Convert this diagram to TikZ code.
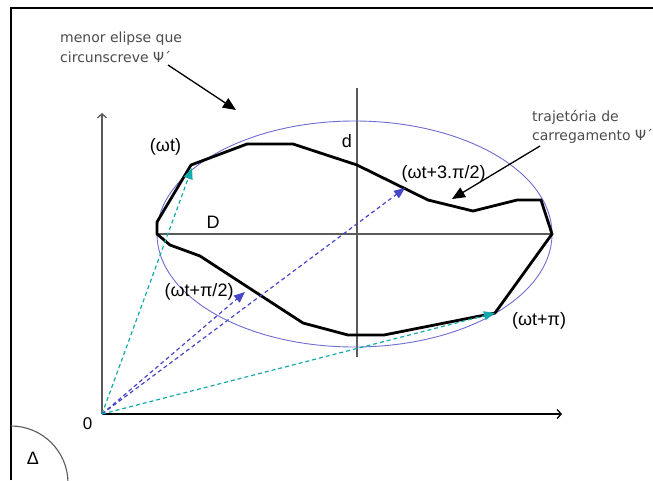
\documentclass[tikz,border=0pt]{standalone}
\usepackage{fontspec}
\setmainfont{Liberation Sans}
\newfontfamily\dejavu{DejaVu Sans}
\usetikzlibrary{arrows.meta}
\definecolor{vteal}{RGB}{20,170,170}
\definecolor{vblue}{RGB}{70,70,200}
\definecolor{ellcol}{RGB}{110,110,210}
\definecolor{axcol}{RGB}{90,90,90}
\tikzset{
  lbl/.style={font=\fontsize{18}{20}\selectfont, anchor=base, inner sep=0pt},
  note/.style={font=\dejavu\fontsize{14}{19.5}\selectfont, text=black!70, align=left, anchor=north west, inner sep=0pt},
  vec/.style={dash pattern=on 4pt off 3pt, line width=1.2pt, -{Triangle[length=11pt,width=9pt]}},
  notearrow/.style={line width=1.3pt, -{Triangle[length=13pt,width=11pt]}},
  loadpath/.style={line width=2.8pt, line join=miter},
  guide/.style={line width=1.2pt, draw=axcol},
  axis/.style={line width=1.3pt, -{Straight Barb[length=4pt,width=9pt]}}
}
\begin{document}
\begin{tikzpicture}[x=1pt,y=-1pt]
\useasboundingbox[fill=white] (0,0) rectangle (653,480);
% frame
\draw[line width=1.2pt] (11,480) -- (11,8) -- (653,8);
% coordinates
\coordinate (O) at (102,414);
\coordinate (ytop) at (102,113);
\coordinate (xend) at (562,414);
\coordinate (C) at (354.5,234);
\coordinate (Dl) at (157,234);
\coordinate (Dr) at (552,234);
\coordinate (dt) at (357,88);
\coordinate (db) at (357,357);
% axes
\draw[axis, draw=axcol] (O) -- (ytop);
\draw[axis] (O) -- (xend);
% guides
\draw[guide] (Dl) -- (Dr);
\draw[guide] (dt) -- (db);
% ellipse
\draw[ellcol, line width=0.9pt] (C) ellipse [x radius=197.5, y radius=113];
% loading path
\coordinate (p1) at (191,165);
\coordinate (p2) at (247,144);
\coordinate (p3) at (293,144);
\coordinate (p4) at (357,165);
\coordinate (p5) at (428,200);
\coordinate (p6) at (473,211);
\coordinate (p7) at (517,200);
\coordinate (p8) at (541,200);
\coordinate (p9) at (552,234);
\coordinate (p10) at (495,313);
\coordinate (p11) at (384,335);
\coordinate (p12) at (348,335);
\coordinate (p13) at (303,323);
\coordinate (p14) at (200,256);
\coordinate (p15) at (170,245);
\coordinate (p16) at (157,234);
\coordinate (p17) at (157,222);
\draw[loadpath] (p1) -- (p2) -- (p3) -- (p4) -- (p5) -- (p6) -- (p7) -- (p8) -- (p9) -- (p10) -- (p11) -- (p12) -- (p13) -- (p14) -- (p15) -- (p16) -- (p17) -- cycle;
% vectors
\coordinate (tA) at (192,168);
\coordinate (tB) at (245,292);
\coordinate (tC) at (405,188);
\coordinate (tD) at (495,313);
\draw[vec, vteal] (O) -- (tA);
\draw[vec, vblue] (O) -- (tB);
\draw[vec, vblue] (O) -- (tC);
\draw[vec, vteal] (O) -- (tD);
% Delta arc
\draw[axcol, line width=1.1pt] (11,426) arc[start angle=-90, end angle=0, radius=57];
% labels
\node[lbl] (lwt) at (165.5,151.5) {(ωt)};
\node[lbl] (lD) at (213,228.3) {D};
\node[lbl] (ld) at (347,147.7) {d};
\node[lbl] (l3) at (443.5,178) {(ωt+3.π/2)};
\node[lbl] (l2) at (199,296.7) {(ωt+π/2)};
\node[lbl] (lpi) at (539,325) {(ωt+π)};
\node[lbl, font=\fontsize{17}{20}\selectfont] (l0) at (87.7,429) {0};
\node[lbl] (lDelta) at (33,464) {Δ};
% notes
\node[note] (n1) at (60,32) {menor elipse que\\circunscreve Ψ´};
\node[note] (n2) at (532,110) {trajetória de\\carregamento Ψ´};
\coordinate (a1s) at (168,65);
\coordinate (a1e) at (236,110);
\coordinate (a2s) at (540,146);
\coordinate (a2e) at (452,199);
\draw[notearrow] (a1s) -- (a1e);
\draw[notearrow] (a2s) -- (a2e);
\end{tikzpicture}
\end{document}
